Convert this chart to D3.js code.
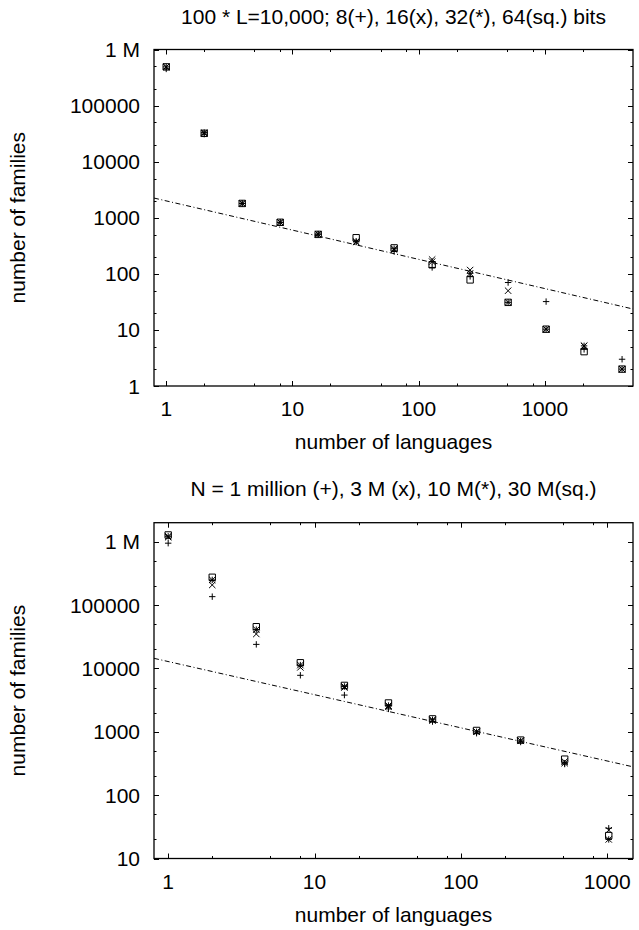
<!DOCTYPE html>
<html><head><meta charset="utf-8">
<script src="https://cdn.jsdelivr.net/npm/d3@7/dist/d3.min.js"></script>
<style>
html,body{margin:0;padding:0;background:#fff;}
text{font-family:"Liberation Sans",Arial,sans-serif;fill:#000;}
</style>
</head><body>
<svg id="chart" width="639" height="930"></svg>
<script>
// ---------- data: top panel ----------
const topTitle = "100 * L=10,000; 8(+), 16(x), 32(*), 64(sq.) bits";
const topX = [1, 2, 4, 8, 16, 32, 64, 128, 256, 512, 1024, 2048, 4096];
const top8bits  = [450000, 31000, 1800, 820, 510, 380, 250, 130, 90, 70, 32, 4.5, 3];
const top16bits = [490000, 32000, 1800, 830, 510, 375, 270, 180, 117, 50, 10.3, 5.2, 2];
const top32bits = [490000, 33000, 1800, 830, 510, 370, 280, 165, 102, 31, 10.3, 5.2, 2];
const top64bits = [490000, 32000, 1800, 830, 505, 440, 290, 145, 78, 31, 10.3, 4.1, 2];
const topFitX = [0.8, 5000];
const topFitY = [2245, 23.6];
const topYTicks = [1, 10, 100, 1000, 10000, 100000, 1000000];
const topYTickLabels = ["1", "10", "100", "1000", "10000", "100000", "1 M"];
const topYMinor = [2, 5, 20, 50, 200, 500, 2000, 5000, 20000, 50000, 200000, 500000];
const topXTicks = [1, 10, 100, 1000];
const topXTickLabels = ["1", "10", "100", "1000"];
const topXMinor = [2, 5, 8, 20, 50, 80, 200, 500, 800, 2000];

// ---------- data: bottom panel ----------
const botTitle = "N = 1 million (+), 3 M (x), 10 M(*), 30 M(sq.)";
const botX = [1, 2, 4, 8, 16, 32, 64, 128, 256, 512, 1024];
const bot1M  = [950000, 136000, 24000, 7800, 3800, 2300, 1450, 950, 690, 310, 30];
const bot3M  = [1180000, 208000, 35000, 10400, 5000, 2500, 1500, 1000, 720, 340, 28];
const bot10M = [1220000, 250000, 41000, 11300, 5200, 2600, 1550, 1000, 720, 320, 20];
const bot30M = [1280000, 275000, 45600, 12300, 5400, 2850, 1600, 1050, 740, 370, 23];
const botFitX = [0.8, 1500];
const botFitY = [14450, 280];
const botYTicks = [10, 100, 1000, 10000, 100000, 1000000];
const botYTickLabels = ["10", "100", "1000", "10000", "100000", "1 M"];
const botYMinor = [20, 50, 200, 500, 2000, 5000, 20000, 50000, 200000, 500000];
const botXTicks = [1, 10, 100, 1000];
const botXTickLabels = ["1", "10", "100", "1000"];
const botXMinor = [2, 5, 8, 20, 50, 80, 200, 500, 800];

const xLabel = "number of languages";
const yLabel = "number of families";

const svg = d3.select("#chart");
const FONT = 21;

function markerPath(type, cx, cy, r) {
  const p = d3.path();
  if (type === "plus" || type === "star") {
    p.moveTo(cx - r, cy); p.lineTo(cx + r, cy);
    p.moveTo(cx, cy - r); p.lineTo(cx, cy + r);
  }
  if (type === "cross" || type === "star") {
    p.moveTo(cx - r, cy - r); p.lineTo(cx + r, cy + r);
    p.moveTo(cx - r, cy + r); p.lineTo(cx + r, cy - r);
  }
  if (type === "square") {
    p.rect(cx - r, cy - r, 2 * r, 2 * r);
  }
  return p.toString();
}

function panel(cfg) {
  const {left, right, top, bottom} = cfg.frame;
  const x = d3.scaleLog().domain(cfg.xDomain).range([left, right]);
  const y = d3.scaleLog().domain(cfg.yDomain).range([bottom, top]);
  const g = svg.append("g");

  // ticks (inward, mirrored)
  const tickG = g.append("g").attr("stroke", "#000").attr("stroke-width", 1);
  const major = 5, minor = 2.5;
  cfg.xTicks.forEach(v => {
    const px = Math.round(x(v)) + 0.5;
    tickG.append("line").attr("x1", px).attr("x2", px).attr("y1", bottom).attr("y2", bottom - major);
    tickG.append("line").attr("x1", px).attr("x2", px).attr("y1", top).attr("y2", top + major);
  });
  cfg.xMinor.forEach(v => {
    const px = Math.round(x(v)) + 0.5;
    tickG.append("line").attr("x1", px).attr("x2", px).attr("y1", bottom).attr("y2", bottom - minor);
    tickG.append("line").attr("x1", px).attr("x2", px).attr("y1", top).attr("y2", top + minor);
  });
  cfg.yTicks.forEach(v => {
    const py = Math.round(y(v)) + 0.5;
    tickG.append("line").attr("x1", left).attr("x2", left + major).attr("y1", py).attr("y2", py);
    tickG.append("line").attr("x1", right).attr("x2", right - major).attr("y1", py).attr("y2", py);
  });
  cfg.yMinor.forEach(v => {
    const py = Math.round(y(v)) + 0.5;
    tickG.append("line").attr("x1", left).attr("x2", left + minor).attr("y1", py).attr("y2", py);
    tickG.append("line").attr("x1", right).attr("x2", right - minor).attr("y1", py).attr("y2", py);
  });

  // tick labels
  cfg.xTicks.forEach((v, i) => {
    g.append("text").attr("x", x(v)).attr("y", bottom + 22.5)
      .attr("text-anchor", "middle").attr("dominant-baseline", "central")
      .attr("font-size", FONT).text(cfg.xTickLabels[i]);
  });
  cfg.yTicks.forEach((v, i) => {
    g.append("text").attr("x", left - 14).attr("y", y(v))
      .attr("text-anchor", "end").attr("dominant-baseline", "central")
      .attr("font-size", FONT).text(cfg.yTickLabels[i]);
  });

  // fit line (dash-dot)
  const fit = cfg.fitX.map((v, i) => [v, cfg.fitY[i]]);
  g.append("path")
    .attr("d", d3.line().x(d => x(d[0])).y(d => y(d[1]))(fit))
    .attr("fill", "none").attr("stroke", "#000").attr("stroke-width", 1)
    .attr("stroke-dasharray", "5,2.5,1,2.5");

  // markers
  const types = ["plus", "cross", "star", "square"];
  cfg.series.forEach((vals, si) => {
    const d = cfg.xs.map((xv, i) => markerPath(types[si], x(xv), y(vals[i]), 3.2)).join("");
    g.append("path").attr("d", d).attr("fill", "none").attr("stroke", "#000").attr("stroke-width", 1);
  });

  // frame
  g.append("rect").attr("x", left).attr("y", top).attr("width", right - left).attr("height", bottom - top)
    .attr("fill", "none").attr("stroke", "#000").attr("stroke-width", 1.3);

  // titles
  g.append("text").attr("x", (left + right) / 2).attr("y", cfg.titleY)
    .attr("text-anchor", "middle").attr("dominant-baseline", "central")
    .attr("font-size", FONT).text(cfg.title);
  g.append("text").attr("x", (left + right) / 2).attr("y", bottom + 55.5)
    .attr("text-anchor", "middle").attr("dominant-baseline", "central")
    .attr("font-size", FONT).text(xLabel);
  g.append("text").attr("transform", `translate(17,${(top + bottom) / 2}) rotate(-90)`)
    .attr("text-anchor", "middle").attr("dominant-baseline", "central")
    .attr("font-size", FONT).text(yLabel);
}

panel({
  frame: {left: 154, right: 633, top: 49.5, bottom: 386},
  xDomain: [0.8, 5000], yDomain: [1, 1e6],
  xs: topX, series: [top8bits, top16bits, top32bits, top64bits],
  fitX: topFitX, fitY: topFitY,
  xTicks: topXTicks, xTickLabels: topXTickLabels, xMinor: topXMinor,
  yTicks: topYTicks, yTickLabels: topYTickLabels, yMinor: topYMinor,
  title: topTitle, titleY: 16
});

panel({
  frame: {left: 154, right: 633, top: 522.7, bottom: 858.5},
  xDomain: [0.8, 1500], yDomain: [10, 2e6],
  xs: botX, series: [bot1M, bot3M, bot10M, bot30M],
  fitX: botFitX, fitY: botFitY,
  xTicks: botXTicks, xTickLabels: botXTickLabels, xMinor: botXMinor,
  yTicks: botYTicks, yTickLabels: botYTickLabels, yMinor: botYMinor,
  title: botTitle, titleY: 488.5
});
</script>
</body></html>
